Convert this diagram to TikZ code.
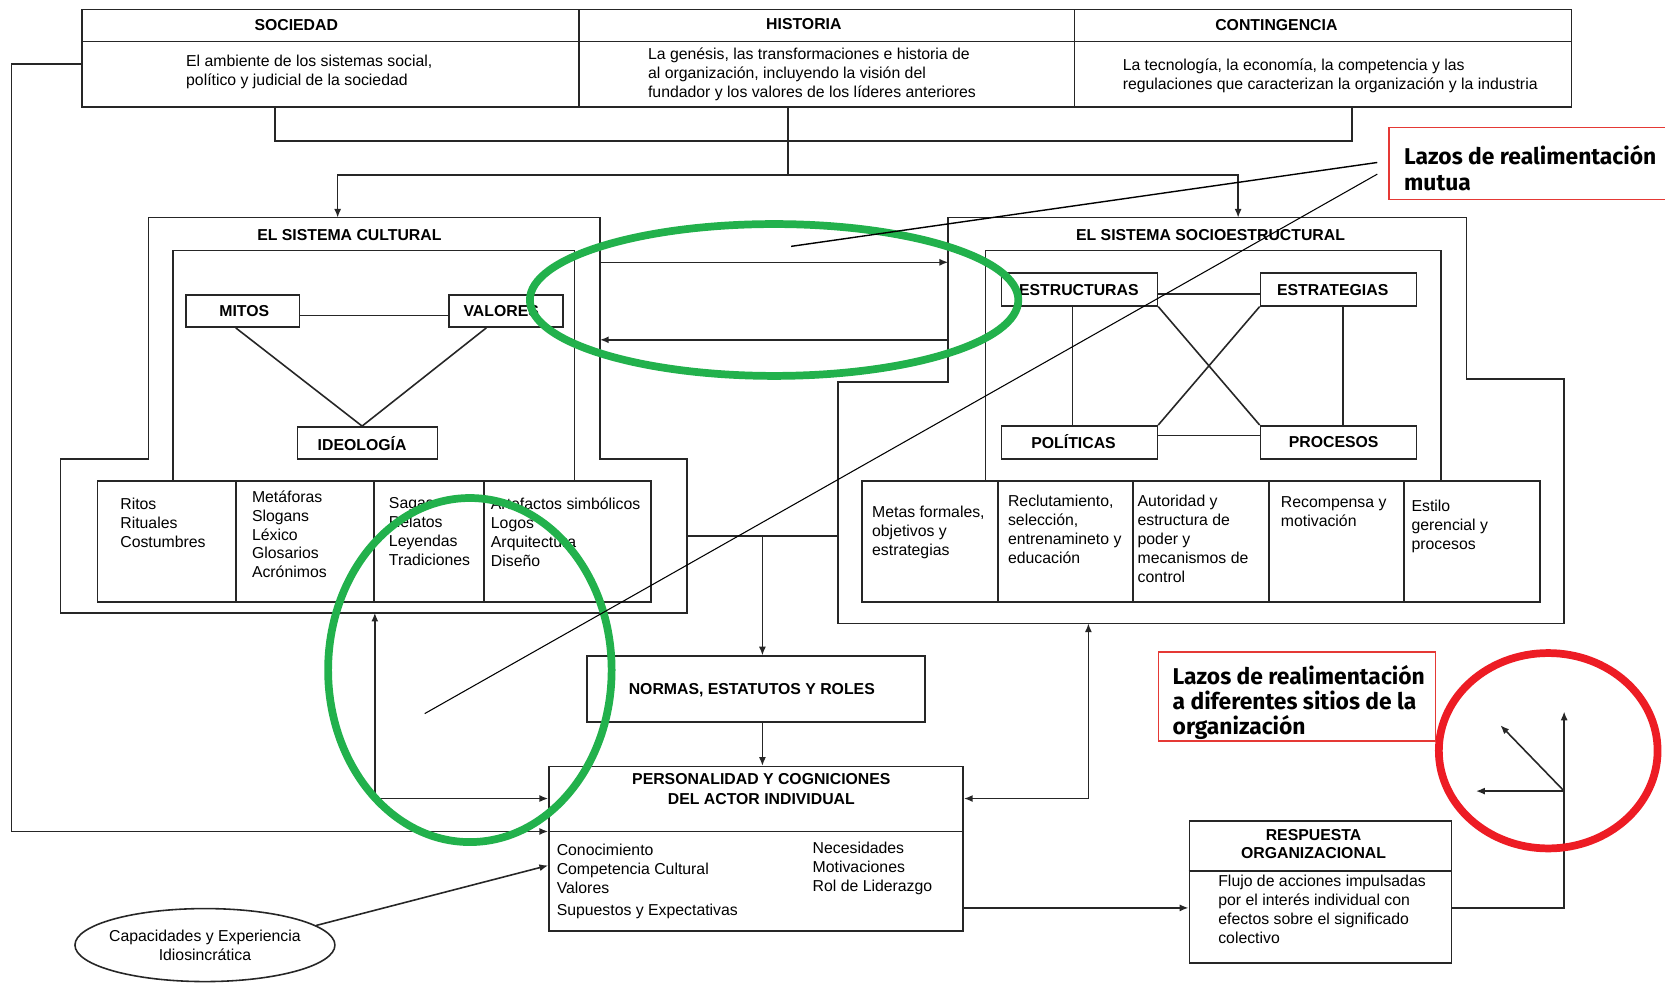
\documentclass[tikz,border=0pt]{standalone}
\usepackage{fontspec}
\setmainfont{Liberation Sans}
\newfontfamily\lazosfont{Fira Sans}
\usetikzlibrary{arrows.meta,fit,shapes.geometric}
\definecolor{mygreen}{HTML}{22B14C}
\definecolor{myred}{HTML}{ED1C24}
\definecolor{labred}{HTML}{E53935}
\begin{document}
\begin{tikzpicture}[x=0.021237cm,y=-0.021237cm,
  ln/.style={draw=black!85,line width=0.9pt},
  arr/.style={ln,-{Latex[length=5pt,width=4pt]}},
  darr/.style={ln,{Latex[length=5pt,width=4pt]}-{Latex[length=5pt,width=4pt]}},
  box/.style={ln,inner sep=0pt,fit={#1}},
  hd/.style={font=\fontsize{9}{11}\selectfont\bfseries,inner sep=0pt},
  tx/.style={font=\fontsize{9}{10.8}\selectfont,align=left,anchor=north west,inner sep=0pt},
  lazos/.style={font=\lazosfont\bfseries\fontsize{13}{14.4}\selectfont,align=left,anchor=north west,inner sep=0pt},
  lab/.style={draw=labred,line width=0.8pt,inner sep=0pt,fit={#1}},
  ring/.style={line width=4.4pt},
  ptr/.style={draw=black,line width=0.6pt}
]
\fill[white] (0,0) rectangle (1568,925);
\useasboundingbox (0,0) rectangle (1568,925);

% ---------- top table ----------
\node[box={(77,9)(545,101)}] (soc) {};
\node[box={(545,9)(1012,101)}] (his) {};
\node[box={(1012,9)(1480,101)}] (con) {};
\draw[ln] (77,39) -- (1480,39);
\node[hd] (socH) at (279,24) {SOCIEDAD};
\node[hd] (hisH) at (757,23) {HISTORIA};
\node[hd] (conH) at (1202,24) {CONTINGENCIA};
\node[tx] (socT) at (175,51.5) {El ambiente de los sistemas social,\\político y judicial de la sociedad};
\node[tx] (hisT) at (610,44.5) {La genésis, las transformaciones e historia de\\al organización, incluyendo la visión del\\fundador y los valores de los líderes anteriores};
\node[tx] (conT) at (1057,55.5) {La tecnología, la economía, la competencia y las\\regulaciones que caracterizan la organización y la industria};

% ---------- cultural system ----------
\draw[ln] (140,205) -- (565,205) -- (565,432) -- (647,432) -- (647,577) -- (57,577) -- (57,432) -- (140,432) -- cycle;
\draw[ln] (163,453) -- (163,236) -- (541,236) -- (541,453);
\node[hd] (culH) at (329,221) {EL SISTEMA CULTURAL};
\node[box={(175,278)(282,308)}] (mitos) {};
\node[box={(423,278)(530,308)}] (valores) {};
\node[box={(280,402)(412,432)}] (ideo) {};
\node[hd] at (230,293) {MITOS};
\node[hd] at (472,293) {VALORES};
\node[hd] at (341,418) {IDEOLOGÍA};
\draw[ln] (mitos.east |- 0,297) -- (valores.west |- 0,297);
\draw[ln] (222,0 |- mitos.south) -- (341,0 |- ideo.north);
\draw[ln] (458,0 |- valores.south) -- (341,0 |- ideo.north);
\node[box={(92,453)(613,567)}] (cultab) {};
\draw[ln] (222,453) -- (222,567) (352,453) -- (352,567) (456,453) -- (456,567);
\node[tx] at (113,468.5) {Ritos\\Rituales\\Costumbres};
\node[tx] at (237,461.5) {Metáforas\\Slogans\\Léxico\\Glosarios\\Acrónimos};
\node[tx] at (366,468.5) {Sagas\\Relatos\\Leyendas\\Tradiciones};
\node[tx] at (462,468.5) {Artefactos simbólicos\\Logos\\Arquitectura\\Diseño};

% ---------- socio-structural system ----------
\draw[ln] (893,205) -- (1381,205) -- (1381,357) -- (1473,357) -- (1473,587) -- (789,587) -- (789,360) -- (893,360) -- cycle;
\draw[ln] (928,453) -- (928,236) -- (1357,236) -- (1357,453);
\node[hd] (socioH) at (1140,221) {EL SISTEMA SOCIOESTRUCTURAL};
\node[box={(943,257)(1090,288)}] (estru) {};
\node[box={(1187,257)(1334,288)}] (estra) {};
\node[box={(943,401)(1090,432)}] (poli) {};
\node[box={(1187,401)(1334,432)}] (proc) {};
\node[hd] at (1016,273) {ESTRUCTURAS};
\node[hd] at (1255,273) {ESTRATEGIAS};
\node[hd] at (1011,416) {POLÍTICAS};
\node[hd] at (1256,416) {PROCESOS};
\draw[ln] (estru.east |- 0,277) -- (estra.west |- 0,277);
\draw[ln] (poli.east |- 0,410) -- (proc.west |- 0,410);
\draw[ln] (1010,0 |- estru.south) -- (1010,0 |- poli.north);
\draw[ln] (1265,0 |- estra.south) -- (1265,0 |- proc.north);
\draw[ln] (estru.south east) -- (proc.north west);
\draw[ln] (estra.south west) -- (poli.north east);
\node[box={(812,453)(1450,567)}] (soctab) {};
\draw[ln] (940,453) -- (940,567) (1067,453) -- (1067,567) (1195,453) -- (1195,567) (1322,453) -- (1322,567);
\node[tx] at (821,476.5) {Metas formales,\\objetivos y\\estrategias};
\node[tx] at (949,465.5) {Reclutamiento,\\selección,\\entrenamineto y\\educación};
\node[tx] at (1071,465.5) {Autoridad y\\estructura de\\poder y\\mecanismos de\\control};
\node[tx] at (1206,467.5) {Recompensa y\\motivación};
\node[tx] at (1329,470.5) {Estilo\\gerencial y\\procesos};

% ---------- lower boxes ----------
\node[box={(553,618)(871,680)}] (normas) {};
\node[hd] at (708,650) {NORMAS, ESTATUTOS Y ROLES};
\node[box={(517,722)(907,877)}] (pers) {};
\draw[ln] (pers.west |- 0,783) -- (pers.east |- 0,783);
\node[hd,align=center,font=\fontsize{9}{11.4}\selectfont\bfseries] at (717,743) {PERSONALIDAD Y COGNICIONES\\DEL ACTOR INDIVIDUAL};
\node[tx] at (524,794.5) {Conocimiento\\Competencia Cultural\\Valores\\[1.5pt]Supuestos y Expectativas};
\node[tx] at (765,792.5) {Necesidades\\Motivaciones\\Rol de Liderazgo};
\node[box={(1120,773)(1367,907)}] (resp) {};
\draw[ln,line width=1.3pt] (resp.west |- 0,820) -- (resp.east |- 0,820);
\node[hd,align=center,font=\fontsize{9}{10.2}\selectfont\bfseries] at (1237,795) {RESPUESTA\\ORGANIZACIONAL};
\node[tx] at (1147,823.5) {Flujo de acciones impulsadas\\por el interés individual con\\efectos sobre el significado\\colectivo};
\node[ln,ellipse,minimum width=5.2cm,minimum height=1.46cm,inner xsep=-12pt,inner ysep=0pt,align=center,font=\fontsize{9}{10.8}\selectfont] (cap) at (193,890) {Capacidades y Experiencia\\Idiosincrática};

% ---------- coordinates ----------
\coordinate (culTop) at (318,205);
\coordinate (socTop) at (1166,205);
\coordinate (culE1) at (565,247);
\coordinate (socW1) at (893,247);
\coordinate (socW2) at (893,320);
\coordinate (culE2) at (565,320);
\coordinate (culR) at (647,505);
\coordinate (socL) at (789,505);
\coordinate (culB) at (353,577);
\coordinate (socB) at (1025,587);
\coordinate (fb) at (1473,745);

% ---------- connectors ----------
\draw[ln] (259,0 |- soc.south) -- (259,133) -- (1273,133) -- (1273,0 |- con.south);
\draw[ln] (742,0 |- his.south) -- (742,165);
\draw[arr] (742,165) -| (culTop);
\draw[arr] (742,165) -| (socTop);
\draw[arr] (culE1) -- (socW1);
\draw[arr] (socW2) -- (culE2);
\draw[ln] (culR) -- (socL);
\draw[arr] (718,505) -- (718,0 |- normas.north);
\draw[arr] (718,0 |- normas.south) -- (718,0 |- pers.north);
\draw[arr] (soc.west |- 0,60) -- (11,60) -- (11,783) -- (pers.west |- 0,783);
\draw[darr] (culB) -- (353,752) -- (pers.west |- 0,752);
\draw[darr] (socB) -- (1025,752) -- (pers.east |- 0,752);
\draw[arr] (pers.east |- 0,855) -- (resp.west |- 0,855);
\draw[arr] (resp.east |- 0,855) -- (1473,855) -- (1473,670);
\draw[arr] (fb) -- (1390,745);
\draw[arr] (fb) -- (1413,683);
\draw[arr] (cap.10) -- (pers.west |- 0,815);

% ---------- highlights ----------
\draw[mygreen,ring] (729,282.5) ellipse [x radius=230, y radius=71.5];
\draw[mygreen,ring] (442.5,631) ellipse [x radius=133.5, y radius=162];
\draw[myred,ring] (1458,707) ellipse [x radius=103, y radius=92];

% ---------- labels ----------
\node[lab={(1308,120)(1580,188)}] (lab1) {};
\node[lazos] at (1322,137) {Lazos de realimentación\\mutua};
\node[lab={(1091,614)(1352,698)}] (lab2) {};
\node[lazos] at (1104,626) {Lazos de realimentación\\a diferentes sitios de la\\organización};
\coordinate (p1) at (1297,153);
\coordinate (p2) at (1297,164);
\coordinate (q1) at (745,232);
\coordinate (q2) at (400,672);
\draw[ptr,line width=0.8pt] (p1) -- (q1);
\draw[ptr] (p2) -- (q2);
\end{tikzpicture}
\end{document}
